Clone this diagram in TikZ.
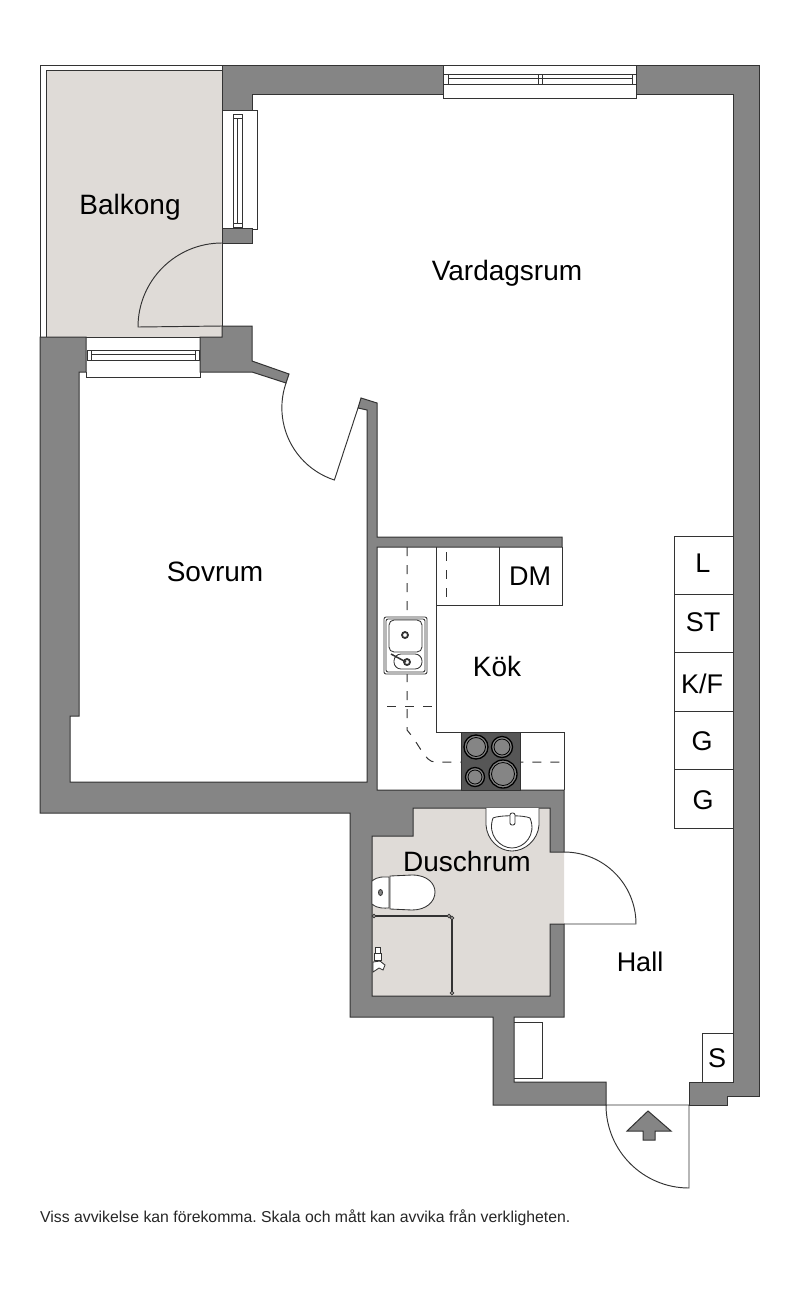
\documentclass[tikz,border=0pt]{standalone}
\usepackage{fontspec}
\setmainfont{Liberation Sans}
\frenchspacing
\definecolor{wallgray}{HTML}{858585}
\definecolor{floorbeige}{HTML}{DFDBD7}
\definecolor{hobgray}{HTML}{565656}
\definecolor{linegray}{HTML}{333333}
\tikzset{
  wall/.style={draw=linegray,fill=wallgray,line width=1pt,line join=miter},
  floorzone/.style={draw=linegray,fill=floorbeige,line width=1pt},
  fixture/.style={draw=linegray,line width=0.95pt},
  thinpart/.style={draw=linegray,line width=0.85pt},
  pipe/.style={draw=linegray,line width=1pt,dash pattern=on 9pt off 9pt},
  roomname/.style={inner sep=0pt,text=black,font=\fontsize{28}{28}\selectfont},
  unitname/.style={inner sep=0pt,text=black,font=\fontsize{27}{27}\selectfont},
}
\begin{document}
\begin{tikzpicture}[x=1pt,y=-1pt]
  \useasboundingbox (0,0) rectangle (800,1291);

  \draw[thinpart,fill=white] (40,65) rectangle (222,337);
  \draw[floorzone] (46,70) rectangle (222,337);
  \fill[floorbeige] (372,836) -- (413,836) -- (413,808) -- (550,808) -- (550,852)
      -- (564,852) -- (564,924) -- (550,924) -- (550,996) -- (372,996) -- cycle;

  \draw[wall] (222,65) -- (443,65) -- (443,94) -- (252,94) -- (252,110)
      -- (222,110) -- cycle;
  \draw[wall] (636,65) -- (759,65) -- (759,1096) -- (727,1096) -- (727,1105)
      -- (689,1105) -- (689,1082) -- (733,1082) -- (733,94) -- (636,94) -- cycle;
  \draw[wall] (222,228) rectangle (252,243);
  \draw[wall] (222,326) -- (252,326) -- (252,361) -- (289,374) -- (286,383)
      -- (252,372) -- (200,372) -- (200,337) -- (222,337) -- cycle;
  \draw[wall] (40,337) -- (86,337) -- (86,372) -- (79,372) -- (79,716) -- (70,716)
      -- (70,782) -- (367,782) -- (367,410) -- (358,408) -- (361,398) -- (377,403)
      -- (377,537) -- (562,537) -- (562,547) -- (377,547) -- (377,790) -- (564,790)
      -- (564,852) -- (550,852) -- (550,808) -- (413,808) -- (413,836) -- (372,836)
      -- (372,996) -- (550,996) -- (550,924) -- (564,924) -- (564,1017) -- (514,1017)
      -- (514,1082) -- (606,1082) -- (606,1105) -- (493,1105) -- (493,1017)
      -- (350,1017) -- (350,813) -- (40,813) -- cycle;

  \draw[thinpart] (443,65) -- (636,65) (443,94) -- (443,98) -- (636,98) -- (636,94);
  \draw[thinpart] (443,74) rectangle (636,84) (448,78) -- (632,78);
  \draw[thinpart] (448,74) -- (448,84) (538,74) -- (538,84) (542,74) -- (542,84)
      (632,74) -- (632,84);
  \draw[thinpart] (222,110) -- (257,110) -- (257,229) -- (252,229);
  \draw[thinpart] (233,114) rectangle (242,227) (237,118) -- (237,223)
      (233,118) -- (242,118) (233,223) -- (242,223);
  \draw[thinpart] (86,372) -- (86,377) -- (200,377) -- (200,372);
  \draw[thinpart] (87,350) rectangle (199,360) (91,354) -- (195,354)
      (91,350) -- (91,360) (195,350) -- (195,360);

  \draw[fixture] (222,243) arc [start angle=90,end angle=180,radius=84pt] -- (222,326);
  \draw[fixture] (286,383) arc [start angle=161,end angle=252,radius=76pt] -- (358,408);
  \draw[fixture] (564,852) arc [start angle=90,end angle=0,radius=72pt] -- (564,924);
  \draw[fixture] (606,1105) arc [start angle=180,end angle=270,radius=83pt] -- (689,1105) -- cycle;
  \draw[wall] (648,1111) -- (671,1131) -- (655,1131) -- (655,1140) -- (643,1140)
      -- (643,1131) -- (627,1131) -- cycle;

  \draw[fixture] (436,547) -- (436,732) -- (564,732) -- (564,790);
  \draw[fixture] (436,605) -- (562,605) -- (562,547) (499,547) -- (499,605);
  \draw[pipe] (407,547) -- (407,730) .. controls (420,745) and (425,762) .. (435,762) -- (564,762);
  \draw[pipe] (387,706) -- (436,706);
  \draw[pipe] (446,552) -- (446,605);

  \fill[hobgray] (461,732) rectangle (520,790);
  \draw[linegray,line width=0.9pt] (461,732) rectangle (520,790);
  \foreach \hx/\hy/\hr in {476/747/12, 502/747/10.5, 475/777/9.5, 503/774/14} {
    \draw[black,fill=wallgray,line width=1.3pt] (\hx,\hy) circle [radius=\hr pt];
    \draw[black,line width=0.8pt] (\hx,\hy) circle [radius=\hr pt - 2.5pt];
  }

  \draw[thinpart,fill=white,rounded corners=2pt] (384,617) rectangle (427,674);
  \draw[thinpart,rounded corners=2pt] (386,619) rectangle (425,672);
  \draw[thinpart,rounded corners=5pt] (389,620) rectangle (422,652);
  \draw[thinpart,rounded corners=7pt] (394,654) rectangle (422,669);
  \draw[linegray,line width=1.8pt] (405,635) circle [radius=3pt];
  \draw[linegray,line width=1.8pt] (407,662) circle [radius=3pt];
  \draw[linegray,line width=1.5pt] (391,654) -- (406,662);

  \fill[white] (486,808) -- (539,808) -- (539,825) .. controls (538,840) and (525,851) .. (512,851)
      .. controls (499,851) and (487,840) .. (486,825) -- cycle;
  \draw[thinpart] (486,808) -- (486,825) .. controls (487,840) and (499,851) .. (512,851)
      .. controls (525,851) and (538,840) .. (539,825) -- (539,808);
  \draw[thinpart] (493,818) .. controls (487,835) and (500,848) .. (512,848)
      .. controls (524,848) and (537,835) .. (530,818) .. controls (524,815) and (499,815) .. (493,818);
  \draw[thinpart,fill=white,rounded corners=2pt] (510,813) rectangle (515,825);

  \draw[thinpart,fill=white] (372,881) .. controls (378,876) and (384,877) .. (389,877) -- (389,908)
      .. controls (384,908) and (378,909) .. (372,904) -- cycle;
  \draw[thinpart,fill=white] (390,876) -- (412,875) .. controls (428,875) and (435,884) .. (435,892)
      .. controls (435,902) and (426,910) .. (412,910) -- (390,909) -- cycle;
  \draw[thinpart,fill=wallgray] (380.5,892.5) ellipse [x radius=2pt,y radius=3pt];

  \draw[linegray,line width=1.4pt] (374,916) -- (449,916) (452,918) -- (452,993);
  \foreach \sx/\sy in {374/916, 449/916, 452/918, 452/993}
    \draw[linegray,line width=0.9pt,fill=floorbeige] (\sx,\sy) circle [radius=1.7pt];
  \draw[thinpart,fill=white] (375,947) rectangle (380,953);
  \draw[thinpart,fill=white] (374,953) rectangle (381,960);
  \draw[thinpart,fill=white] (373,962) -- (380,961) -- (385,965) -- (383,970) -- (379,968) -- (373,972) -- cycle;

  \foreach \ytop in {536, 594.4, 652.8, 711.2, 769.6}
    \draw[fixture] (674,\ytop) rectangle (733,\ytop+58.4);
  \draw[fixture] (702,1082) -- (702,1033) -- (733,1033);
  \draw[fixture] (514,1022) -- (542,1022) -- (542,1078) -- (514,1078);

  \node[roomname] (balkong) at (130,207.5) {Balkong};
  \node[roomname] (vardagsrum) at (507,273.5) {Vardagsrum};
  \node[roomname] (sovrum) at (215,572) {Sovrum};
  \node[roomname] (kok) at (497,666) {Kök};
  \node[roomname] (duschrum) at (467,861) {Duschrum};
  \node[unitname] (hall) at (640,962) {Hall};
  \node[unitname] (dm) at (530,576) {DM};
  \node[unitname] (lager) at (703,563) {L};
  \node[unitname] (stad) at (703,622) {ST};
  \node[unitname] (kyl) at (702,684) {K/F};
  \node[unitname] (garderobA) at (702,741) {G};
  \node[unitname] (garderobB) at (703,800) {G};
  \node[unitname] (skap) at (717,1058) {S};
  \node[anchor=west,inner sep=0pt,text=black!85,font=\fontsize{15.8}{15.8}\selectfont] (note) at (40,1218)
      {Viss avvikelse kan förekomma. Skala och mått kan avvika från verkligheten.};
\end{tikzpicture}
\end{document}
